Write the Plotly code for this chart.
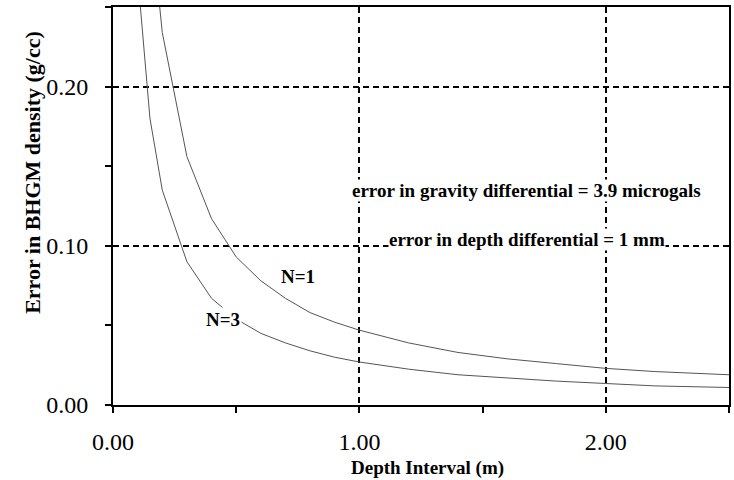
import plotly.graph_objects as go

depth = [0.1, 0.15, 0.2, 0.3, 0.4, 0.5, 0.6, 0.7, 0.8, 0.9, 1.0, 1.2, 1.4, 1.6, 1.8, 2.0, 2.2, 2.5]
err_n1 = [0.467, 0.311, 0.234, 0.156, 0.117, 0.093, 0.078, 0.067, 0.058, 0.052, 0.047,
          0.039, 0.033, 0.029, 0.026, 0.023, 0.021, 0.019]
err_n3 = [0.270, 0.180, 0.135, 0.090, 0.067, 0.054, 0.045, 0.039, 0.034, 0.030, 0.027,
          0.0225, 0.019, 0.017, 0.015, 0.0135, 0.012, 0.011]

x_ticks = [0, 1, 2]
x_tick_labels = ["0.00", "1.00", "2.00"]
y_ticks = [0, 0.1, 0.2]
y_tick_labels = ["0.00", "0.10", "0.20"]

FONT = "Liberation Serif, Times New Roman, serif"
PAD = "\u00a0\u00a0"

fig = go.Figure()
fig.add_trace(go.Scatter(x=depth, y=err_n1, mode="lines", name="N=1",
                         line=dict(color="#555555", width=1)))
fig.add_trace(go.Scatter(x=depth, y=err_n3, mode="lines", name="N=3",
                         line=dict(color="#555555", width=1)))

axis_common = dict(
    showline=True, linecolor="black", linewidth=2, mirror=True,
    ticks="outside", ticklen=6, tickwidth=1.5, tickcolor="black",
    showgrid=True, gridcolor="black", gridwidth=1.5, griddash="6px,4px",
    zeroline=False,
    tickfont=dict(family=FONT, size=24, color="black"),
)

fig.update_xaxes(range=[0, 2.5], tickvals=x_ticks, ticktext=x_tick_labels,
                 minor=dict(dtick=0.5, tick0=0, ticks="outside", ticklen=6,
                            tickwidth=1.5, tickcolor="black", showgrid=False),
                 ticklabelstandoff=8,
                 **axis_common)
fig.update_yaxes(range=[0, 0.25], tickvals=y_ticks,
                 ticktext=[t + PAD for t in y_tick_labels],
                 minor=dict(dtick=0.05, tick0=0, ticks="outside", ticklen=6,
                            tickwidth=1.5, tickcolor="black", showgrid=False),
                 **axis_common)

ann_font = dict(family=FONT, size=19, color="black")
fig.add_annotation(x=1.679, y=0.135, text="<b>error in gravity differential = 3.9 microgals</b>",
                   showarrow=False, font=ann_font, bgcolor="white", borderpad=0)
fig.add_annotation(x=1.679, y=0.104, text="<b>error in depth differential = 1 mm</b>",
                   showarrow=False, font=ann_font, bgcolor="white", borderpad=0)
fig.add_annotation(x=0.749, y=0.0805, text="<b>N=1</b>", showarrow=False,
                   font=ann_font, bgcolor="white")
fig.add_annotation(x=0.445, y=0.0535, text="<b>N=3</b>", showarrow=False,
                   font=ann_font, bgcolor="white")
fig.add_annotation(xref="paper", x=-0.131, y=0.146, xanchor="center", yanchor="middle",
                   text="<b>Error in BHGM density (g/cc)</b>", textangle=-90,
                   showarrow=False, font=dict(family=FONT, size=22, color="black"))
fig.add_annotation(xref="paper", yref="paper", x=0.51, y=-0.158, yanchor="middle",
                   text="<b>Depth Interval (m)</b>",
                   showarrow=False, font=dict(family=FONT, size=19, color="black"))

fig.update_layout(
    width=734, height=480,
    margin=dict(l=113, r=3, t=7, b=75),
    plot_bgcolor="white", paper_bgcolor="white",
    showlegend=False,
)

fig.write_html("out.html", config={"displayModeBar": False},
               post_script="document.body.style.margin='0';")
